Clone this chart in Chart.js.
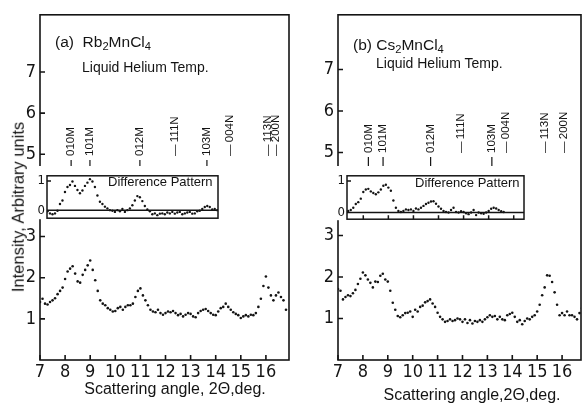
<!DOCTYPE html>
<html>
<head>
<meta charset="utf-8">
<script src="https://cdn.jsdelivr.net/npm/chart.js@4.4.0/dist/chart.umd.min.js"></script>
<style>
  body { margin: 0; background: #fff; }
  #wrap { position: relative; width: 585px; height: 404px; overflow: hidden; background: #fff;
          font-family: 'Liberation Sans', Arial, sans-serif; color: #141414; }
  canvas { position: absolute; }
  .txt { position: absolute; white-space: nowrap; line-height: 1; }
  .txt sub { font-size: 0.72em; vertical-align: -0.25em; line-height: 0; }
</style>
</head>
<body>
<div id="wrap">
  <canvas id="mainA" width="300" height="404" style="left:0;top:0"></canvas>
  <canvas id="mainB" width="285" height="404" style="left:300px;top:0"></canvas>
  <canvas id="insetA" width="192" height="62" style="left:30px;top:166px"></canvas>
  <canvas id="insetB" width="203" height="63" style="left:325px;top:166px"></canvas>

  <div class="txt" style="left:55px;top:34px;font-size:15.5px">(a)&nbsp;&nbsp;Rb<sub>2</sub>MnCl<sub>4</sub></div>
  <div class="txt" style="left:82px;top:60px;font-size:14px">Liquid Helium Temp.</div>
  <div class="txt" style="left:353px;top:37px;font-size:15.5px">(b)&nbsp;Cs<sub>2</sub>MnCl<sub>4</sub></div>
  <div class="txt" style="left:376px;top:56px;font-size:14px">Liquid Helium Temp.</div>
  <div class="txt" style="left:108px;top:175px;font-size:13px">Difference Pattern</div>
  <div class="txt" style="left:415px;top:176px;font-size:13px">Difference Pattern</div>
  <div class="txt" style="left:75px;top:381px;width:200px;text-align:center;font-size:16px">Scattering angle, 2Θ,deg.</div>
  <div class="txt" style="left:372px;top:387px;width:200px;text-align:center;font-size:16px">Scattering angle,2Θ,deg.</div>
  <div class="txt" style="left:18px;top:207px;font-size:16.5px;transform:translate(-50%,-50%) rotate(-90deg)">Intensity, Arbitrary units</div>
</div>

<script>
const INK = '#141414';
const NUM_FONT = "'Liberation Sans Narrow', 'DejaVu Sans Condensed', sans-serif";

// scattering angles, 2θ (deg)
const anglesMain = [
  7.0, 7.1, 7.2, 7.3, 7.4, 7.5, 7.6, 7.7, 7.8, 7.9,
  8.0, 8.1, 8.2, 8.3, 8.4, 8.5, 8.6, 8.7, 8.8, 8.9,
  9.0, 9.1, 9.2, 9.3, 9.4, 9.5, 9.6, 9.7, 9.8, 9.9,
  10.0, 10.1, 10.2, 10.3, 10.4, 10.5, 10.6, 10.7, 10.8, 10.9,
  11.0, 11.1, 11.2, 11.3, 11.4, 11.5, 11.6, 11.7, 11.8, 11.9,
  12.0, 12.1, 12.2, 12.3, 12.4, 12.5, 12.6, 12.7, 12.8, 12.9,
  13.0, 13.1, 13.2, 13.3, 13.4, 13.5, 13.6, 13.7, 13.8, 13.9,
  14.0, 14.1, 14.2, 14.3, 14.4, 14.5, 14.6, 14.7, 14.8, 14.9,
  15.0, 15.1, 15.2, 15.3, 15.4, 15.5, 15.6, 15.7, 15.8, 15.9,
  16.0, 16.1, 16.2, 16.3, 16.4, 16.5, 16.6, 16.7, 16.8
];

// (a) Rb2MnCl4 intensity
const rbMain = [
  1.41, 1.49, 1.37, 1.35, 1.41, 1.45, 1.50, 1.60, 1.68, 1.76,
  1.97, 2.15, 2.22, 2.28, 2.10, 1.91, 1.88, 2.07, 2.19, 2.30,
  2.42, 2.19, 1.94, 1.68, 1.45, 1.37, 1.33, 1.26, 1.22, 1.18,
  1.19, 1.26, 1.29, 1.22, 1.29, 1.33, 1.33, 1.37, 1.53, 1.68,
  1.74, 1.57, 1.45, 1.33, 1.22, 1.18, 1.16, 1.22, 1.14, 1.10,
  1.14, 1.18, 1.16, 1.19, 1.14, 1.09, 1.12, 1.06, 1.10, 1.14,
  1.12, 1.06, 1.04, 1.14, 1.19, 1.22, 1.24, 1.19, 1.14, 1.10,
  1.09, 1.18, 1.26, 1.29, 1.37, 1.29, 1.22, 1.16, 1.12, 1.09,
  1.02, 1.06, 1.09, 1.06, 1.10, 1.09, 1.14, 1.29, 1.49, 1.80,
  2.03, 1.76, 1.57, 1.45, 1.57, 1.64, 1.53, 1.45, 1.22
];

// (b) Cs2MnCl4 intensity
const csMain = [
  1.71, 1.67, 1.46, 1.52, 1.56, 1.54, 1.61, 1.69, 1.83, 1.96,
  2.11, 2.04, 1.94, 1.86, 1.75, 1.89, 1.88, 2.03, 2.08, 1.94,
  1.89, 1.67, 1.38, 1.21, 1.06, 1.03, 1.08, 1.13, 1.14, 1.17,
  1.04, 1.21, 1.17, 1.28, 1.31, 1.39, 1.42, 1.46, 1.36, 1.28,
  1.14, 1.04, 0.98, 0.92, 0.94, 0.98, 0.94, 0.96, 1.00, 0.98,
  0.92, 0.98, 0.89, 0.96, 0.88, 0.94, 0.92, 0.96, 0.92, 0.98,
  1.03, 1.08, 1.04, 1.06, 0.98, 1.04, 0.98, 0.96, 1.08, 1.11,
  1.14, 1.04, 0.92, 0.96, 0.86, 0.94, 1.00, 0.98, 1.04, 1.08,
  1.17, 1.33, 1.56, 1.75, 2.04, 2.03, 1.88, 1.63, 1.33, 1.08,
  1.13, 1.08, 1.17, 1.08, 1.08, 1.04, 0.98, 1.13, 1.25
];

// difference patterns (insets)
const anglesDiffA = [
  7.3, 7.4, 7.5, 7.6, 7.7, 7.8, 7.9, 8.0, 8.1, 8.2,
  8.3, 8.4, 8.5, 8.6, 8.7, 8.8, 8.9, 9.0, 9.1, 9.2,
  9.3, 9.4, 9.5, 9.6, 9.7, 9.8, 9.9, 10.0, 10.1, 10.2,
  10.3, 10.4, 10.5, 10.6, 10.7, 10.8, 10.9, 11.0, 11.1, 11.2,
  11.3, 11.4, 11.5, 11.6, 11.7, 11.8, 11.9, 12.0, 12.1, 12.2,
  12.3, 12.4, 12.5, 12.6, 12.7, 12.8, 12.9, 13.0, 13.1, 13.2,
  13.3, 13.4, 13.5, 13.6, 13.7, 13.8, 13.9, 14.0, 14.1
];
const rbDiff = [
  -0.04, -0.11, -0.14, -0.11, -0.02, 0.21, 0.33, 0.62, 0.79, 0.86,
  0.98, 0.83, 0.69, 0.58, 0.67, 0.83, 0.94, 1.06, 0.98, 0.79,
  0.50, 0.29, 0.21, 0.12, 0.06, 0.00, -0.02, -0.06, 0.00, -0.04,
  0.04, -0.06, 0.00, 0.06, 0.17, 0.33, 0.48, 0.44, 0.31, 0.14,
  0.02, -0.04, -0.14, -0.11, -0.17, -0.12, -0.11, -0.14, -0.08, -0.11,
  -0.06, -0.12, -0.08, -0.06, -0.14, -0.11, -0.08, -0.06, -0.12, -0.11,
  -0.04, -0.02, 0.04, 0.11, 0.14, 0.11, 0.02, 0.04, 0.00
];
const anglesDiffB = [
  7.4, 7.5, 7.6, 7.7, 7.8, 7.9, 8.0, 8.1, 8.2, 8.3,
  8.4, 8.5, 8.6, 8.7, 8.8, 8.9, 9.0, 9.1, 9.2, 9.3,
  9.4, 9.5, 9.6, 9.7, 9.8, 9.9, 10.0, 10.1, 10.2, 10.3,
  10.4, 10.5, 10.6, 10.7, 10.8, 10.9, 11.0, 11.1, 11.2, 11.3,
  11.4, 11.5, 11.6, 11.7, 11.8, 11.9, 12.0, 12.1, 12.2, 12.3,
  12.4, 12.5, 12.6, 12.7, 12.8, 12.9, 13.0, 13.1, 13.2, 13.3,
  13.4, 13.5, 13.6
];
const csDiff = [
  0.05, 0.08, 0.15, 0.27, 0.33, 0.44, 0.65, 0.73, 0.75, 0.67,
  0.62, 0.58, 0.64, 0.73, 0.85, 0.88, 0.79, 0.69, 0.38, 0.15,
  0.05, 0.02, 0.05, 0.10, 0.08, 0.10, 0.05, 0.13, 0.10, 0.15,
  0.21, 0.27, 0.31, 0.35, 0.36, 0.28, 0.19, 0.12, 0.05, 0.02,
  0.00, 0.08, 0.15, 0.02, 0.00, 0.04, 0.02, -0.02, -0.05, 0.00,
  0.08, -0.08, 0.00, -0.02, -0.04, 0.00, 0.05, 0.12, 0.15, 0.13,
  0.08, 0.04, 0.02
];

// reflection markers
const reflNames = ['010M', '101M', '012M', '\u2014\u2009111N', '103M', '\u2014\u2009004N', '\u2014\u2009113N', '\u2014\u2009200N'];
const reflPosA = [8.24, 8.99, 10.98, 12.38, 13.65, 14.57, 16.08, 16.40];
const reflPosB = [8.22, 8.81, 10.72, 11.95, 13.18, 13.73, 15.32, 16.08];

// tick labels
const xTickVals = [7, 8, 9, 10, 11, 12, 13, 14, 15, 16];
const yTickVals = [1, 2, 3, 5, 6, 7];
const diffTickVals = [0, 1];
const diffXTickVals = [8, 9, 10, 11, 12, 13, 14];

const framePlugin = {
  id: 'frame',
  beforeDraw(chart, args, opts) {
    if (!opts.fill) return;
    // white backing so the inset hides the main axis behind it
    const { ctx, chartArea: a } = chart;
    ctx.save();
    ctx.fillStyle = '#fff';
    ctx.fillRect(0, 0, a.right + 1, a.bottom + 1);
    ctx.restore();
  },
  afterDraw(chart, args, opts) {
    const { ctx, chartArea: a, scales: { x, y } } = chart;
    ctx.save();
    ctx.strokeStyle = INK;
    ctx.lineWidth = opts.lineWidth;
    ctx.strokeRect(a.left, a.top, a.right - a.left, a.bottom - a.top);

    // inward ticks + zero line
    ctx.beginPath();
    (opts.yTicks || []).forEach(v => {
      const py = y.getPixelForValue(v);
      ctx.moveTo(a.left, py);
      ctx.lineTo(a.left + opts.tickLen, py);
    });
    (opts.xTicks || []).forEach(v => {
      const px = x.getPixelForValue(v);
      ctx.moveTo(px, a.bottom);
      ctx.lineTo(px, a.bottom - opts.tickLen);
    });
    if (opts.zeroLine) {
      const py = y.getPixelForValue(0);
      ctx.moveTo(a.left, py);
      ctx.lineTo(a.right, py);
    }
    ctx.stroke();

    // reflection labels above the inset
    const p = opts.peaks;
    if (p) {
      ctx.fillStyle = INK;
      ctx.font = p.font;
      ctx.textAlign = 'left';
      ctx.textBaseline = 'middle';
      ctx.lineWidth = 1.2;
      p.names.forEach((name, i) => {
        const px = x.getPixelForValue(p.pos[i]);
        ctx.save();
        ctx.translate(px, p.textBottom);
        ctx.rotate(-Math.PI / 2);
        ctx.fillText(name, 0, 0);
        ctx.restore();
        if (name.endsWith('M')) {
          ctx.beginPath();
          ctx.moveTo(px, p.lineTop);
          ctx.lineTo(px, p.lineBottom);
          ctx.stroke();
        }
      });
    }
    ctx.restore();
  }
};

function toPoints(xs, ys) {
  return xs.map((v, i) => ({ x: v, y: ys[i] }));
}

function makeMain(id, xs, ys, cfg) {
  return new Chart(document.getElementById(id), {
    type: 'scatter',
    data: {
      datasets: [{
        data: toPoints(xs, ys),
        pointRadius: 1.3,
        pointBorderWidth: 0,
        pointBackgroundColor: INK
      }]
    },
    options: {
      responsive: false,
      animation: false,
      layout: { padding: { top: cfg.top, right: cfg.padRight, left: 0, bottom: 0 } },
      plugins: {
        legend: { display: false },
        tooltip: { enabled: false },
        frame: {
          lineWidth: 1.6,
          tickLen: 5,
          yTicks: yTickVals,
          xTicks: xTickVals,
          peaks: {
            names: reflNames,
            pos: cfg.refl,
            font: "11.5px 'Liberation Sans', Arial, sans-serif",
            textBottom: cfg.textBottom,
            lineTop: cfg.textBottom + 4,
            lineBottom: 168
          }
        }
      },
      scales: {
        x: {
          type: 'linear', min: 7, max: cfg.xMax,
          grid: { display: false, drawTicks: false },
          border: { display: false },
          afterBuildTicks: s => { s.ticks = xTickVals.map(v => ({ value: v })); },
          afterFit: s => { s.height = 404 - 360; },
          ticks: { color: INK, padding: 2, maxRotation: 0, autoSkip: false,
                   font: { family: NUM_FONT, size: 18 } }
        },
        y: {
          type: 'linear', min: 0, max: cfg.yMax,
          grid: { display: false, drawTicks: false },
          border: { display: false },
          afterBuildTicks: s => { s.ticks = yTickVals.map(v => ({ value: v })); },
          afterFit: s => { s.width = cfg.yAxisW; },
          ticks: { color: INK, padding: 4, font: { family: NUM_FONT, size: 18 } }
        }
      }
    },
    plugins: [framePlugin]
  });
}

function makeInset(id, xs, ys, cfg) {
  return new Chart(document.getElementById(id), {
    type: 'scatter',
    data: {
      datasets: [{
        data: toPoints(xs, ys),
        pointRadius: 1.2,
        pointBorderWidth: 0,
        pointBackgroundColor: INK
      }]
    },
    options: {
      responsive: false,
      animation: false,
      layout: { padding: { top: 2, right: 3, left: 0, bottom: 0 } },
      plugins: {
        legend: { display: false },
        tooltip: { enabled: false },
        frame: { fill: true, lineWidth: 1.5, tickLen: 4, yTicks: [1], xTicks: cfg.xTicks, zeroLine: true }
      },
      scales: {
        x: {
          type: 'linear', min: cfg.xMin, max: cfg.xMax,
          grid: { display: false, drawTicks: false },
          border: { display: false },
          ticks: { display: false },
          afterFit: s => { s.height = cfg.xAxisH; }
        },
        y: {
          type: 'linear', min: cfg.yMin, max: cfg.yMax,
          grid: { display: false, drawTicks: false },
          border: { display: false },
          afterBuildTicks: s => { s.ticks = diffTickVals.map(v => ({ value: v })); },
          afterFit: s => { s.width = cfg.yAxisW; },
          ticks: { color: INK, padding: 2, font: { family: NUM_FONT, size: 13 } }
        }
      }
    },
    plugins: [framePlugin]
  });
}

makeMain('mainA', anglesMain, rbMain, {
  top: 9, padRight: 11, yAxisW: 40, xMax: 16.92, yMax: 8.39, refl: reflPosA, textBottom: 156
});
makeMain('mainB', anglesMain, csMain, {
  top: 12, padRight: 1, yAxisW: 38, xMax: 16.76, yMax: 8.32, refl: reflPosB, textBottom: 153
});
makeInset('insetA', anglesDiffA, rbDiff, {
  xMin: 7.28, xMax: 14.13, yMin: -0.275, yMax: 1.175, yAxisW: 17, xAxisH: 2, xTicks: []
});
makeInset('insetB', anglesDiffB, csDiff, {
  xMin: 7.35, xMax: 14.41, yMin: -0.21, yMax: 1.163, yAxisW: 22, xAxisH: 3, xTicks: diffXTickVals
});
</script>
</body>
</html>
